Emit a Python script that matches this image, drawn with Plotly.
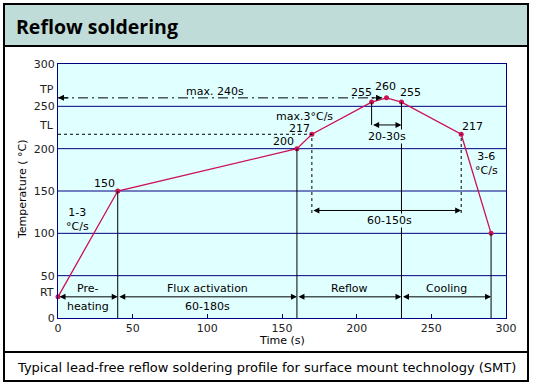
import plotly.graph_objects as go

# ---------------- data ----------------
time_s = [0, 40, 160, 170, 210, 220, 230, 270, 290]
temp_c = [25, 150, 200, 217, 255, 260, 255, 217, 100]

y_tick_vals = [0, 50, 100, 150, 200, 250, 300]
special_ticks = [("RT", 25), ("TL", 217), ("TP", 260)]
x_tick_vals = [0, 50, 100, 150, 200, 250, 300]
grid_y = [50, 100, 150, 200, 250]

phase_bounds = [0, 40, 160, 230, 290]
phase_top = ["Pre-", "Flux activation", "Reflow", "Cooling"]
phase_bottom = ["heating", "60-180s", "", ""]
RT, TL, TP = 25, 217, 260

# point labels: (text, x, y)
point_labels = [
    ("150", 31, 159), ("200", 151, 208), ("217", 162, 224),
    ("255", 203.5, 266), ("260", 219.5, 273), ("255", 236, 266),
    ("217", 277.5, 226),
]
rate_labels = [
    ("1-3<br>°C/s", 13, 116), ("max.3°C/s", 165, 238), ("3-6<br>°C/s", 287, 183),
]

FONT = "DejaVu Sans"
BG = "#e0ffff"
NAVY = "#000080"
RED = "#cc1155"

# layout geometry (pixels)
W, H = 534, 386
L, R, T, B = 58, 506, 64, 318
def px(xp):
    return (xp - L) / (R - L)
def py(yp):
    return (B - yp) / (B - T)

fig = go.Figure()
fig.add_trace(go.Scatter(
    x=time_s, y=temp_c, mode="lines+markers",
    line=dict(color=RED, width=1.3),
    marker=dict(color=RED, size=5),
    hoverinfo="skip", showlegend=False, cliponaxis=False,
))

shapes = []
# gridlines
for g in grid_y:
    shapes.append(dict(type="line", xref="paper", yref="y", x0=0, x1=1, y0=g, y1=g,
                       line=dict(color=NAVY, width=1), layer="below"))
# vertical solid lines from x-axis up to points
for xv in [40, 160, 230, 290]:
    yv = temp_c[time_s.index(xv)]
    shapes.append(dict(type="line", x0=xv, x1=xv, y0=0, y1=yv, line=dict(color="black", width=1)))
# 20-30s bracket left line
shapes.append(dict(type="line", x0=210, x1=210, y0=228, y1=255, line=dict(color="black", width=1)))
# dashed lines at TL
shapes.append(dict(type="line", x0=0, x1=170, y0=TL, y1=TL,
                   line=dict(color="black", width=1, dash="3px,3px")))
for xv in [170, 270]:
    shapes.append(dict(type="line", x0=xv, x1=xv, y0=124, y1=TL,
                       line=dict(color="black", width=1, dash="3px,3px")))
# dash-dot line at TP
shapes.append(dict(type="line", x0=0, x1=217, y0=TP, y1=TP,
                   line=dict(color="black", width=1, dash="10px,4px,2px,4px")))

# outer frame
shapes.append(dict(type="rect", xref="paper", yref="paper", x0=px(4), x1=px(528), y0=py(4), y1=py(46),
                   fillcolor="#c0dcd8", line=dict(width=0), layer="below"))
shapes.append(dict(type="rect", xref="paper", yref="paper", x0=px(4), x1=px(528), y0=py(4), y1=py(381),
                   line=dict(color="black", width=2)))
shapes.append(dict(type="line", xref="paper", yref="paper", x0=px(4), x1=px(528), y0=py(46), y1=py(46),
                   line=dict(color="black", width=2)))
shapes.append(dict(type="line", xref="paper", yref="paper", x0=px(4), x1=px(528), y0=py(352), y1=py(352),
                   line=dict(color="black", width=2)))

ann = []
def arrow(x0, x1, y, both=True):
    ann.append(dict(x=x1, y=y, ax=x0, ay=y, axref="x", ayref="y", xref="x", yref="y",
                    text="", showarrow=True, arrowhead=2, arrowsize=1.2, arrowwidth=1,
                    arrowcolor="black", arrowside="end+start" if both else "end",
                    standoff=0, startstandoff=0))

def label(text, x, y, bg=None, size=11):
    d = dict(x=x, y=y, xref="x", yref="y", text=text, showarrow=False,
             font=dict(family=FONT, size=size, color="black"), xanchor="center", yanchor="middle")
    if bg:
        d["bgcolor"] = bg
        d["borderpad"] = 0
    ann.append(d)

# special y tick labels (RT / TL / TP), sitting just above their levels
for name, val in special_ticks:
    ann.append(dict(xref="paper", yref="y", x=0, y=val, xanchor="right", yanchor="bottom",
                    xshift=-2, yshift=-4 if name == "RT" else 0, text=name, showarrow=False,
                    font=dict(family=FONT, size=11, color="#222")))

# phase arrows at RT
for i in range(len(phase_bounds) - 1):
    a, b = phase_bounds[i], phase_bounds[i + 1]
    arrow(a, b, RT)
    label(phase_top[i], (a + b) / 2 if i else 20, 35)
    if phase_bottom[i]:
        label(phase_bottom[i], (a + b) / 2 if i else 20, 14)

# TP arrows
arrow(8, 0, TP, both=False)
arrow(209, 217, TP, both=False)
label("max. 240s", 105, 267)
# 20-30s
arrow(210, 230, 228)
label("20-30s", 220, 214, bg=BG)
# 60-150s
arrow(170, 270, 127)
label("60-150s", 222, 115, bg=BG)

for t, x, y in point_labels:
    label(t, x, y)
for t, x, y in rate_labels:
    label(t, x, y)

# title / caption / axis titles
ann.append(dict(xref="paper", yref="paper", x=px(14), y=py(26), xanchor="left", yanchor="middle",
                text="<b>Reflow soldering</b>", showarrow=False,
                font=dict(family="Open Sans", size=19.5, color="black")))
ann.append(dict(xref="paper", yref="paper", x=px(266), y=py(367), xanchor="center", yanchor="middle",
                text="Typical lead-free reflow soldering profile for surface mount technology (SMT)",
                showarrow=False, font=dict(family=FONT, size=13, color="black")))
ann.append(dict(xref="paper", yref="paper", x=px(282), y=py(340), xanchor="center", yanchor="middle",
                text="Time (s)", showarrow=False, font=dict(family=FONT, size=11, color="black")))
ann.append(dict(xref="paper", yref="paper", x=px(22), y=py(190), xanchor="center", yanchor="middle",
                text="Temperature ( °C)", textangle=-90, showarrow=False,
                font=dict(family=FONT, size=11, color="black")))

fig.update_layout(
    width=W, height=H, autosize=False,
    margin=dict(l=L, r=W - R, t=T, b=H - B, pad=0),
    paper_bgcolor="white", plot_bgcolor=BG,
    shapes=shapes, annotations=ann, showlegend=False,
    font=dict(family=FONT, size=11, color="#222"),
    xaxis=dict(range=[0, 300], tickvals=x_tick_vals, showgrid=False, zeroline=False,
               showline=True, linecolor=NAVY, linewidth=1, mirror=True,
               ticks="inside", ticklen=4, tickcolor=NAVY, fixedrange=True),
    yaxis=dict(range=[0, 300], tickvals=y_tick_vals, showgrid=False,
               zeroline=False, showline=True, linecolor=NAVY, linewidth=1, mirror=True,
               ticks="", fixedrange=True),
)

fig.write_html("out.html", config={"displayModeBar": False},
               post_script="document.body.style.margin='0';document.body.style.padding='0';")
